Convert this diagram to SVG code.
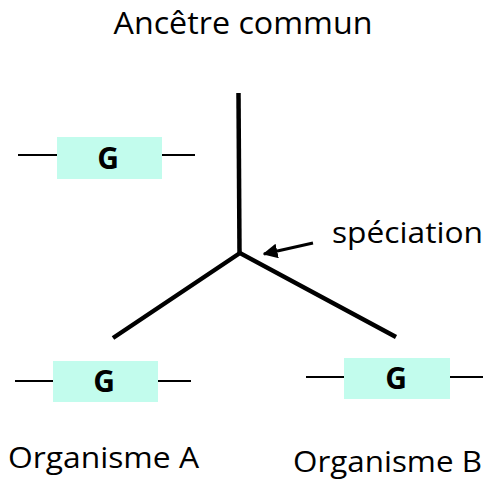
<svg xmlns="http://www.w3.org/2000/svg" width="488" height="482" viewBox="0 0 488 482">
<defs>
<style>
.lbl{font-family:"Open Sans","Noto Sans","Liberation Sans",sans-serif;fill:#000;}
.g{font-family:"Open Sans","Noto Sans","Liberation Sans",sans-serif;font-weight:bold;font-size:30px;text-anchor:middle;fill:#000;}
.box{fill:#c2fced;}
.dna{stroke:#000;stroke-width:2;}
.br{stroke:#000;stroke-width:4.5;fill:none;stroke-linecap:butt;}
</style>
<marker id="ah" viewBox="0 0 10 10" refX="9" refY="5" markerWidth="5" markerHeight="5" orient="auto" markerUnits="strokeWidth">
<path d="M0,0 L10,5 L0,10 z" fill="#000"/>
</marker>
</defs>
<rect width="488" height="482" fill="#fff"/>
<g id="ancestor-label"><text class="lbl" x="243" y="34" font-size="31" text-anchor="middle" textLength="259" lengthAdjust="spacingAndGlyphs">Ancêtre commun</text></g>
<g id="gene-ancestor">
<line class="dna" x1="18" y1="155" x2="57" y2="155"/><line class="dna" x1="162" y1="155" x2="195" y2="155"/>
<rect class="box" x="57" y="137" width="105" height="42"/>
<text class="g" x="108" y="169">G</text>
</g>
<g id="gene-A">
<line class="dna" x1="15" y1="381" x2="53" y2="381"/><line class="dna" x1="158" y1="381" x2="191" y2="381"/>
<rect class="box" x="53" y="361" width="105" height="41"/>
<text class="g" x="104" y="392">G</text>
</g>
<g id="gene-B">
<line class="dna" x1="306" y1="377" x2="344" y2="377"/><line class="dna" x1="450" y1="377" x2="483" y2="377"/>
<rect class="box" x="344" y="358" width="106" height="41"/>
<text class="g" x="396" y="389">G</text>
</g>
<g id="speciation-label"><text class="lbl" x="332" y="243" font-size="29" textLength="151" lengthAdjust="spacingAndGlyphs">spéciation</text></g>
<g id="organism-A"><text class="lbl" x="8" y="468" font-size="29" textLength="191" lengthAdjust="spacingAndGlyphs">Organisme A</text></g>
<g id="organism-B"><text class="lbl" x="293" y="472" font-size="29" textLength="189" lengthAdjust="spacingAndGlyphs">Organisme B</text></g>
<g id="connectors">
<path class="br" d="M238.5,93 L239.5,253"/>
<path class="br" d="M113,338 L240,253 L396,337"/>
<line x1="313" y1="243" x2="264" y2="254" stroke="#000" stroke-width="3" marker-end="url(#ah)"/>
</g>
</svg>
